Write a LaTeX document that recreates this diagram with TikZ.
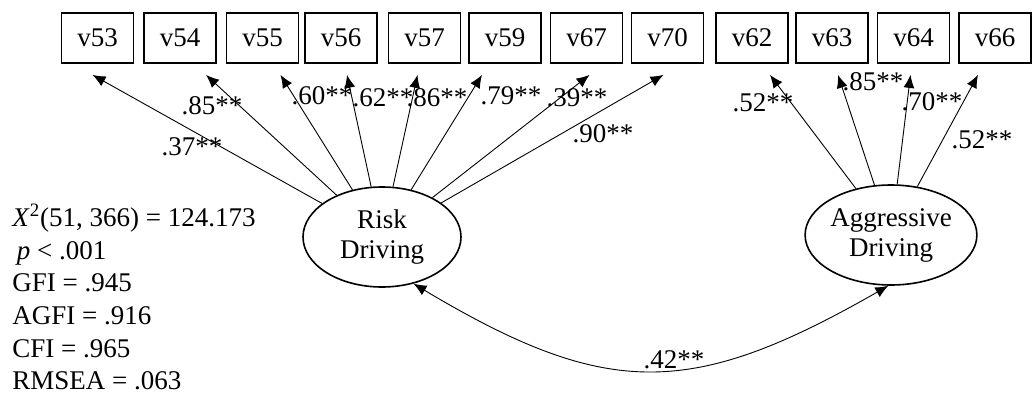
\documentclass[tikz,border=0pt]{standalone}
\usepackage{fontspec}
\setmainfont{Liberation Serif}
\usetikzlibrary{shapes.geometric,arrows.meta,calc}

\begin{document}
\begin{tikzpicture}[x=0.5pt,y=-0.5pt,>={Latex[length=6.5pt,width=5.5pt]},
  font=\fontsize{13.5}{15}\selectfont,
  obs/.style={draw,line width=0.9pt,minimum width=36pt,minimum height=25pt,inner sep=0pt},
  lat/.style={draw,ellipse,line width=0.8pt,minimum width=79pt,minimum height=50pt,inner sep=0pt,align=center},
  load/.style={->,line width=0.45pt},
  coef/.style={inner sep=0pt}]
\useasboundingbox (0,0) rectangle (1033,396);
% observed items
\foreach \v/\x in {53/97.5,54/180,55/262.5,56/341,57/424.5,59/505,67/586.5,70/667.5,62/752,63/832,64/913.5,66/995}
  \node[obs] (v\v) at (\x,38) {v\v};
% factors
\node[lat] (risk) at (382,237) {Risk\\Driving};
\node[lat] (aggr) at (891,235) {Aggressive\\Driving};
% arrow ends under the boxes
\foreach \v/\dx in {53/-5,54/26,55/18,56/6,57/-7,59/-23,67/3,70/-4,62/18,63/6,64/-3,66/-17}
  \coordinate (t\v) at ($(v\v.south)+(\dx,11)$);
\foreach \v in {53,54,55,56,57,59,67,70}
  \draw[load] (risk) -- (t\v);
\foreach \v in {62,63,64,66}
  \draw[load] (aggr) -- (t\v);
% loadings
\node[coef] (l53) at (192,147) {.37**};
\node[coef] (l54) at (212,106) {.85**};
\node[coef] (l55) at (322,96) {.60**};
\node[coef] (l56) at (383,98) {.62**};
\node[coef] (l57) at (437,98) {.86**};
\node[coef] (l59) at (511,96) {.79**};
\node[coef] (l67) at (577,98) {.39**};
\node[coef] (l70) at (603,134) {.90**};
\node[coef] (l62) at (763,103) {.52**};
\node[coef] (l63) at (873,82) {.85**};
\node[coef] (l64) at (932,102) {.70**};
\node[coef] (l66) at (982,140) {.52**};
% correlation
\draw[<->,line width=0.45pt] (risk.-56) .. controls (608,400) and (692,398) .. (aggr.-93);
\node[coef] (r12) at (674,360) {.42**};
% fit indices
\node[align=left,anchor=west,inner sep=0pt,font=\fontsize{13.5}{16.3}\selectfont] (fit) at (12,297)
  {\textit{X}\textsuperscript{2}(51, 366) = 124.173\\
   \,\textit{p} < .001\\
   GFI = .945\\
   AGFI = .916\\
   CFI = .965\\
   RMSEA = .063};
\end{tikzpicture}
\end{document}
